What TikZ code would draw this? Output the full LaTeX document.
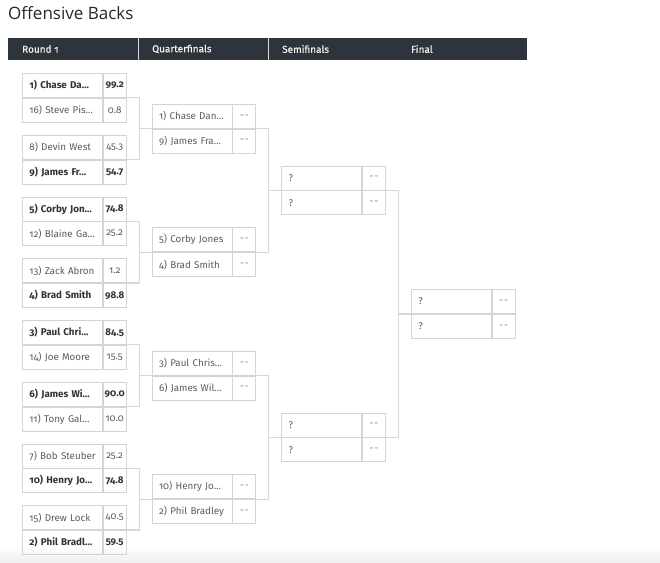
\documentclass[tikz,border=0pt]{standalone}
\usepackage{fontspec}
\setmainfont{Fira Sans}[Numbers=OldStyle]
\newfontfamily\titlefont{Open Sans}
\newfontfamily\headfont{Fira Sans}[Numbers=OldStyle,FakeBold=0.5]
\usetikzlibrary{positioning,calc}
\definecolor{headbg}{HTML}{2D343C}
\definecolor{cellline}{HTML}{D4D4D4}
\definecolor{wirecol}{HTML}{D8D8D8}
\definecolor{nametext}{HTML}{5C5C5C}
\definecolor{wintext}{HTML}{333333}
\definecolor{dashtext}{HTML}{858585}
\newcommand\win[1]{{\color{wintext}\bfseries #1}}
\newcommand\nodash{{\color{dashtext}-\kern.8pt-}}

\begin{document}
\begin{tikzpicture}[x=1pt,y=-1pt,font=\fontsize{9.8}{11}\selectfont,node distance=0pt,
  namecell/.style={draw=cellline,line width=.8pt,minimum height=24pt,text width=66pt,inner xsep=7pt,inner ysep=0pt,align=left,text=nametext,anchor=north west},
  scorecell/.style={draw=cellline,line width=.8pt,minimum height=24pt,minimum width=23pt,inner sep=0pt,text=nametext},
  wire/.style={draw=wirecol,line width=1.2pt},
  headlbl/.style={anchor=west,inner sep=0pt,text=white!90!gray,font=\headfont\fontsize{10}{11}\selectfont}]
\useasboundingbox (0,0) rectangle (660,562);
\fill[white] (0,0) rectangle (660,562);
\shade[top color=white,bottom color=black!6] (0,546) rectangle (660,562);
% title and header bar
\node[anchor=base west,inner sep=0pt,text=black!85,font=\titlefont\fontsize{17}{20}\selectfont] (title) at (8,19.5) {Offensive Backs};
\fill[headbg] (8,38) rectangle (527,60);
\draw[white!70!gray,line width=.8pt] (138,38) -- (138,60) (268,38) -- (268,60);
\foreach \x/\t in {22/Round 1,152/Quarterfinals,282/Semifinals,411/Final}
  \node[headlbl] (h\x) at (\x,49) {\t};
% matches: round/number/top name/top score/bottom name/bottom score
\foreach \r/\j/\na/\sa/\nb/\sb in {
  1/1/\win{1) Chase Da…}/\win{99.2}/16) Steve Pis…/0.8,
  1/2/8) Devin West/45.3/\win{9) James Fr…}/\win{54.7},
  1/3/\win{5) Corby Jon…}/\win{74.8}/12) Blaine Ga…/25.2,
  1/4/13) Zack Abron/1.2/\win{4) Brad Smith}/\win{98.8},
  1/5/\win{3) Paul Chri…}/\win{84.5}/14) Joe Moore/15.5,
  1/6/\win{6) James Wi…}/\win{90.0}/11) Tony Gal…/10.0,
  1/7/7) Bob Steuber/25.2/\win{10) Henry Jo…}/\win{74.8},
  1/8/15) Drew Lock/40.5/\win{2) Phil Bradl…}/\win{59.5},
  2/1/1) Chase Dan…/\nodash/9) James Fra…/\nodash,
  2/2/5) Corby Jones/\nodash/4) Brad Smith/\nodash,
  2/3/3) Paul Chris…/\nodash/6) James Wil…/\nodash,
  2/4/10) Henry Jo…/\nodash/2) Phil Bradley/\nodash,
  3/1/?/\nodash/?/\nodash,
  3/2/?/\nodash/?/\nodash,
  4/1/?/\nodash/?/\nodash}{
  \pgfmathsetmacro\bx{22+129.667*(\r-1)}
  \pgfmathsetmacro\by{73+61.75*(2^(\r-1)*(\j-1)+(2^(\r-1)-1)/2)}
  \node[namecell] (m\r-\j-a) at (\bx,\by) {\mbox{\na}};
  \node[scorecell,right=of m\r-\j-a] (m\r-\j-as) {\sa};
  \node[namecell,below=of m\r-\j-a] (m\r-\j-b) {\mbox{\nb}};
  \node[scorecell,right=of m\r-\j-b] (m\r-\j-bs) {\sb};
}
% bracket wires
\foreach \r/\n in {1/4,2/2,3/1}
  \foreach \j in {1,...,\n}{
    \pgfmathtruncatemacro\a{2*\j-1}
    \pgfmathtruncatemacro\b{2*\j}
    \pgfmathtruncatemacro\s{\r+1}
    \draw[wire] (m\r-\a-as.south east) -- ++(12.5,0) coordinate (k) |- (m\r-\b-as.south east);
    \draw[wire] (m\s-\j-a.south west) -- (k |- m\s-\j-a.south west);
  }
\end{tikzpicture}
\end{document}
